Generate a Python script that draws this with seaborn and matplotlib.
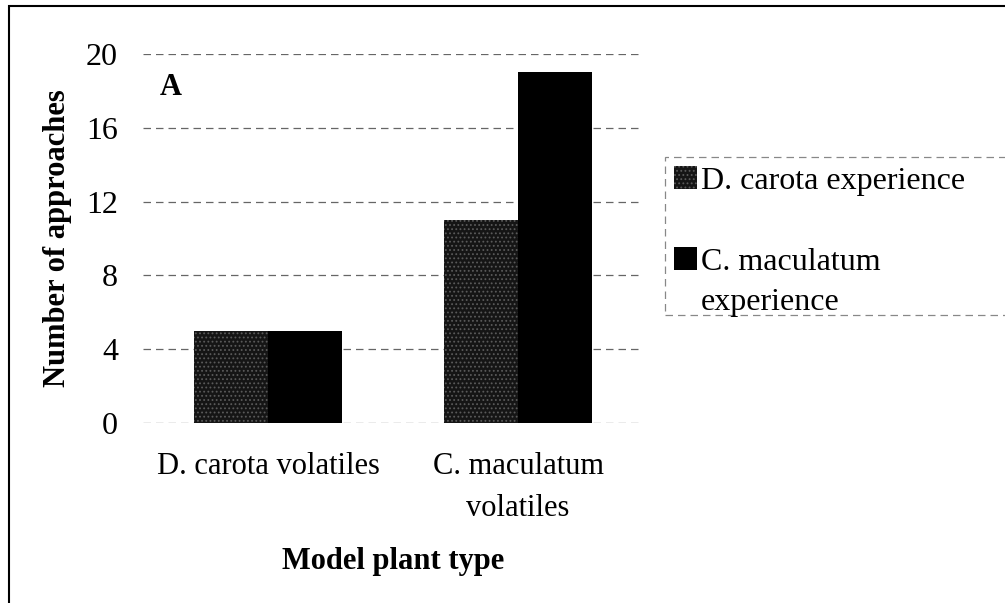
import matplotlib
matplotlib.use("Agg")
import matplotlib.pyplot as plt
import seaborn as sns
import pandas as pd
from matplotlib.patches import Rectangle, Patch

categories = ["D. carota volatiles", "C. maculatum\nvolatiles"]
series_names = ["D. carota experience", "C. maculatum\nexperience"]
dcarota_exp = [5, 11]
cmaculatum_exp = [5, 19]
yticks = [0, 4, 8, 12, 16, 20]

rows = []
for c, v1, v2 in zip(categories, dcarota_exp, cmaculatum_exp):
    rows.append({"cat": c, "series": series_names[0], "val": v1})
    rows.append({"cat": c, "series": series_names[1], "val": v2})
df = pd.DataFrame(rows)

sns.set_theme(style="white")
plt.rcParams["font.family"] = ["Liberation Serif", "DejaVu Serif"]
for k in ["text.color", "axes.labelcolor", "xtick.color", "ytick.color"]:
    plt.rcParams[k] = "black"
plt.rcParams["hatch.color"] = "#5a5a5a"
plt.rcParams["hatch.linewidth"] = 0.8

W, H = 1005, 603
fig = plt.figure(figsize=(W/100, H/100), dpi=100)
ax = fig.add_axes([143/W, 1-423/H, 500/W, 369/H])

colors = ["#151515", "#000000"]
sns.barplot(data=df, x="cat", y="val", hue="series", palette=colors,
            width=0.59, gap=0, ax=ax, legend=False, saturation=1)

for bar in ax.patches:
    bar.set_linewidth(0)
for bar in ax.patches[:2]:
    bar.set_hatch("....")
    bar.set_edgecolor("#5a5a5a")

ax.set_ylim(0, 20)
ax.set_yticks(yticks)
ax.set_yticklabels([str(t) for t in yticks], fontsize=23)
ax.tick_params(axis="y", length=0, pad=18)
ax.tick_params(axis="x", length=0, pad=21, labelsize=22)
for lab in ax.get_xticklabels():
    lab.set_linespacing(1.6)
ax.set_xlim(-0.5, 1.5)
ax.yaxis.grid(True, linestyle=(0, (6, 4)), color="#666666", linewidth=0.9)
ax.set_axisbelow(True)
for s in ax.spines.values():
    s.set_visible(False)

ax.set_ylabel("Number of approaches", fontsize=22, fontweight="bold", labelpad=10)
ax.set_xlabel("Model plant type", fontsize=22, fontweight="bold", labelpad=17)
ax.text(0.056, 0.908, "A", transform=ax.transAxes, fontsize=22,
        fontweight="bold", ha="center", va="center")

# legend frame (dashed, extending beyond the right edge)
fig.patches.append(Rectangle((665/W, 1-315/H), 350/W, 158/H,
                             transform=fig.transFigure, fill=False,
                             edgecolor="#888888", linewidth=0.9,
                             linestyle=(0, (6, 4))))
handles = [Patch(facecolor=colors[0], hatch="....", edgecolor="#5a5a5a", linewidth=0),
           Patch(facecolor=colors[1], linewidth=0)]
first_lines = [s.split("\n")[0] for s in series_names]
leg = fig.legend(handles, first_lines, loc="upper left",
                 bbox_to_anchor=(668/W, 1-160/H), fontsize=23,
                 frameon=False, handlelength=0.7, handleheight=0.7,
                 handletextpad=0.12, labelspacing=1.62, borderpad=0.2,
                 borderaxespad=0)
fig.canvas.draw()
# continuation line of the wrapped second legend label
t2 = leg.get_texts()[1]
bb = t2.get_window_extent()
fig.text(bb.x0 / W, (bb.y0 + bb.y1) / 2 / H - 40 / H, series_names[1].split("\n")[1],
         fontsize=23, ha="left", va="center")

# outer frame (top and left visible)
fig.patches.append(Rectangle((9/W, -0.05), 1.1, (597/H) + 0.05,
                             transform=fig.transFigure, fill=False,
                             edgecolor="black", linewidth=1.5))

fig.savefig("out.png", dpi=100)
